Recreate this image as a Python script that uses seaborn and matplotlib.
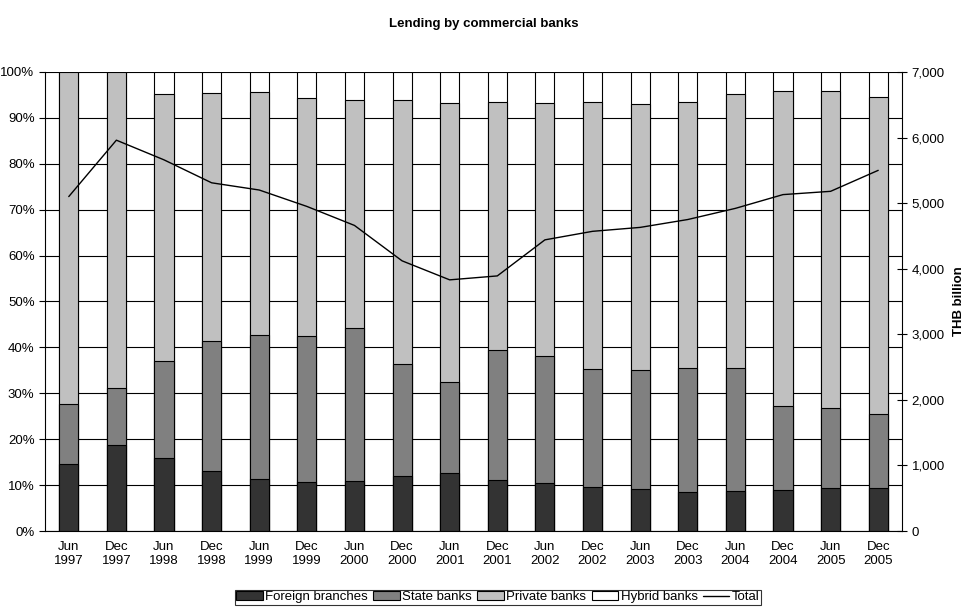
import numpy as np
import pandas as pd
import matplotlib
matplotlib.use('Agg')
import matplotlib.pyplot as plt
import seaborn as sns
from matplotlib.patches import Patch
from matplotlib.lines import Line2D
from matplotlib.ticker import FuncFormatter, FixedLocator

sns.set_style('white')
plt.rcParams['font.family'] = ['Liberation Sans', 'DejaVu Sans']
plt.rcParams['text.color'] = 'black'
plt.rcParams['axes.labelcolor'] = 'black'
plt.rcParams['xtick.color'] = 'black'
plt.rcParams['ytick.color'] = 'black'

periods = ['Jun\n1997', 'Dec\n1997', 'Jun\n1998', 'Dec\n1998', 'Jun\n1999', 'Dec\n1999',
           'Jun\n2000', 'Dec\n2000', 'Jun\n2001', 'Dec\n2001', 'Jun\n2002', 'Dec\n2002',
           'Jun\n2003', 'Dec\n2003', 'Jun\n2004', 'Dec\n2004', 'Jun\n2005', 'Dec\n2005']
# 各類銀行占比(%)
foreign = [14.7, 18.7, 16.0, 13.1, 11.3, 10.7, 11.0, 12.0, 12.7, 11.1, 10.4, 9.6, 9.2, 8.4, 8.8, 9.0, 9.4, 9.4]
state = [13.0, 12.4, 21.1, 28.3, 31.5, 31.8, 33.2, 24.3, 19.8, 28.3, 27.8, 25.6, 25.9, 27.1, 26.8, 18.2, 17.4, 16.1]
private = [72.3, 68.9, 58.2, 54.0, 52.8, 51.8, 49.7, 57.6, 60.8, 54.1, 55.1, 58.3, 58.0, 57.9, 59.7, 68.7, 69.1, 69.1]
hybrid = [0.0, 0.0, 4.7, 4.6, 4.4, 5.7, 6.1, 6.1, 6.7, 6.5, 6.7, 6.5, 6.9, 6.6, 4.7, 4.1, 4.1, 5.4]
# 總放款 (THB billion)
total = [5100, 5960, 5660, 5310, 5200, 4950, 4660, 4120, 3830, 3890, 4440, 4570, 4630, 4750, 4920, 5130, 5180, 5500]

df = pd.DataFrame({'period': periods, 'foreign': foreign, 'state': state,
                   'private': private, 'hybrid': hybrid, 'total': total})
df['c_state'] = df['foreign'] + df['state']
df['c_private'] = df['c_state'] + df['private']
df['c_hybrid'] = df['c_private'] + df['hybrid']

fig = plt.figure(figsize=(9.67, 6.1), dpi=100)
ax = fig.add_axes([0.0465, 0.1295, 0.8863, 0.7525])

layers = [('c_hybrid', '#ffffff'), ('c_private', '#c0c0c0'), ('c_state', '#808080'), ('foreign', '#333333')]
for col, colr in layers:
    sns.barplot(data=df, x='period', y=col, order=periods, color=colr, width=0.4,
                edgecolor='black', linewidth=0.8, saturation=1, ax=ax, zorder=3)

ax.set_ylim(0, 100)
ax.set_xlim(-0.5, 17.5)
ax.set_yticks(np.arange(0, 101, 10))
ax.yaxis.set_major_formatter(FuncFormatter(lambda v, p: f'{int(v)}%'))
ax.grid(axis='y', color='black', linewidth=0.8, zorder=0)
ax.set_axisbelow(True)
ax.set_xlabel('')
ax.set_ylabel('')
ax.tick_params(axis='x', which='major', length=0, pad=7, labelsize=9.5)
ax.xaxis.set_minor_locator(FixedLocator(np.arange(-0.5, 18, 1)))
ax.tick_params(axis='x', which='minor', length=4, direction='out', color='black')
ax.tick_params(axis='y', length=4, direction='out', color='black', labelsize=9.5, left=True)
for s in ['top', 'right']:
    ax.spines[s].set_visible(False)
for s in ['left', 'bottom']:
    ax.spines[s].set_color('black')
    ax.spines[s].set_linewidth(0.8)

ax2 = ax.twinx()
sns.lineplot(x=np.arange(len(periods)), y=df['total'], color='black', linewidth=1, ax=ax2, zorder=5)
ax2.set_ylim(0, 7000)
ax2.set_yticks(np.arange(0, 7001, 1000))
ax2.yaxis.set_major_formatter(FuncFormatter(lambda v, p: f'{int(v):,}'))
ax2.tick_params(axis='y', length=7, direction='inout', color='black', labelsize=9.5, right=True)
ax2.set_ylabel('THB billion', fontweight='bold', fontsize=9.5, labelpad=6)
for s in ['top', 'left', 'bottom']:
    ax2.spines[s].set_visible(False)
ax2.spines['right'].set_color('black')
ax2.spines['right'].set_linewidth(0.8)
ax2.grid(False)

fig.suptitle('Lending by commercial banks', fontweight='bold', fontsize=9.5, y=0.97)

handles = [Patch(facecolor='#333333', edgecolor='black', linewidth=0.8, label='Foreign branches'),
           Patch(facecolor='#808080', edgecolor='black', linewidth=0.8, label='State banks'),
           Patch(facecolor='#c0c0c0', edgecolor='black', linewidth=0.8, label='Private banks'),
           Patch(facecolor='#ffffff', edgecolor='black', linewidth=0.8, label='Hybrid banks'),
           Line2D([0], [0], color='black', linewidth=1, label='Total')]
leg = fig.legend(handles=handles, loc='center', bbox_to_anchor=(0.515, 0.021), ncol=5, fontsize=9.5,
                 frameon=True, fancybox=False, edgecolor='black', handlelength=2.0, handleheight=0.65,
                 handletextpad=0.2, columnspacing=0.4, borderpad=0.1, borderaxespad=0)
leg.get_frame().set_linewidth(0.8)

fig.savefig('out.png', dpi=100)
